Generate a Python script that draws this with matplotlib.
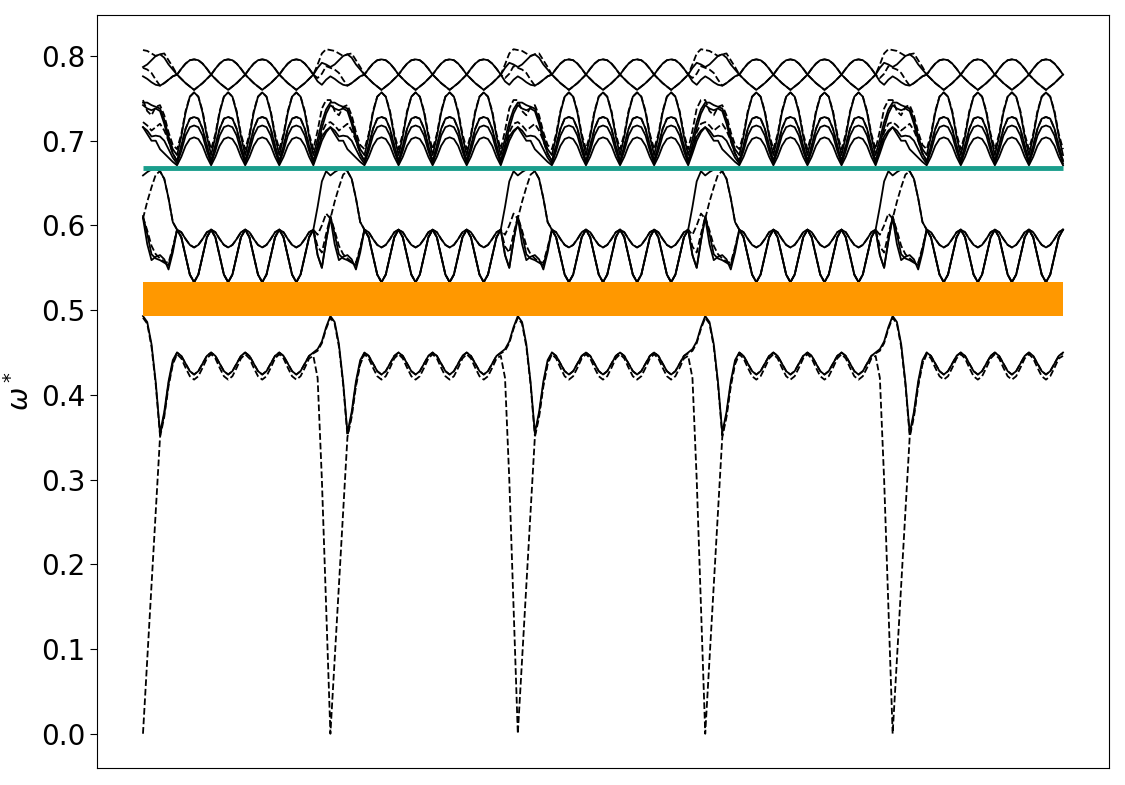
import numpy as np
import matplotlib
matplotlib.use('Agg')
import matplotlib.pyplot as plt

# one period = head (u 0..1.75) + 4 x cycle (u 2..9.75) + tail (u 10..10.75), step 0.25
n_periods = 5
n_pts = 217  # last period stops at u = 10

# lower band
s1_head = [0.493, 0.486, 0.460, 0.415, 0.355, 0.380, 0.416, 0.441]
s1_cycle = [0.450, 0.446, 0.437, 0.428, 0.424, 0.428, 0.437, 0.446]
s1_tail = [0.450, 0.454, 0.463, 0.480]
d1_head = [0.491, 0.484, 0.457, 0.412, 0.352, 0.377, 0.413, 0.438]
d1_tail = [0.449, 0.452, 0.461, 0.478]
d0_head = [0.0, 0.088, 0.175, 0.262, 0.350, 0.374, 0.410, 0.436]
d0_cycle = [0.448, 0.443, 0.432, 0.422, 0.418, 0.422, 0.432, 0.443]
d0_tail = [0.446, 0.420, 0.300, 0.150]

# middle band
a_head = [0.659, 0.663, 0.666, 0.667, 0.664, 0.655, 0.632, 0.604]
a_cycle = [0.595, 0.592, 0.584, 0.577, 0.574, 0.577, 0.584, 0.592]
a_tail = [0.595, 0.622, 0.652, 0.664]
b_head = [0.611, 0.590, 0.566, 0.561, 0.559, 0.556, 0.553, 0.572]
b_cycle = [0.595, 0.586, 0.564, 0.542, 0.533, 0.542, 0.564, 0.586]
b_tail = [0.595, 0.565, 0.550, 0.582]
c_head = [0.609, 0.578, 0.559, 0.563, 0.565, 0.560, 0.548, 0.568]
dm1_head = [0.608, 0.628, 0.645, 0.660, 0.664, 0.655, 0.632, 0.604]
dm1_tail = [0.595, 0.589, 0.600, 0.614]
dm2_head = [0.610, 0.594, 0.576, 0.566, 0.561, 0.557, 0.556, 0.574]
dm2_tail = [0.595, 0.575, 0.568, 0.590]

# upper band
t1_head = [0.787, 0.790, 0.795, 0.800, 0.802, 0.798, 0.790, 0.784]
t_cycle_up = [0.778, 0.785, 0.791, 0.795, 0.796, 0.795, 0.791, 0.785]
t1_tail = [0.778, 0.786, 0.792, 0.790]
t2_head = [0.776, 0.773, 0.769, 0.766, 0.765, 0.768, 0.772, 0.776]
t_cycle_dn = [0.778, 0.773, 0.768, 0.764, 0.760, 0.764, 0.768, 0.773]
t2_tail = [0.778, 0.770, 0.766, 0.772]
dt1_head = [0.807, 0.806, 0.803, 0.800, 0.802, 0.803, 0.795, 0.787]
dt1_tail = [0.778, 0.790, 0.803, 0.808]
dt2_head = [0.786, 0.784, 0.780, 0.772, 0.765, 0.768, 0.772, 0.776]
dt2_tail = [0.778, 0.774, 0.779, 0.788]

p_head = [0.745, 0.745, 0.742, 0.740, 0.738, 0.725, 0.705, 0.690]
p_cycle = [0.683, 0.705, 0.733, 0.752, 0.757, 0.752, 0.733, 0.705]
p_tail = [0.683, 0.702, 0.722, 0.737]
q_head = [0.742, 0.738, 0.736, 0.738, 0.735, 0.720, 0.700, 0.685]
q_cycle = [0.676, 0.694, 0.714, 0.726, 0.728, 0.726, 0.714, 0.694]
q_tail = [0.676, 0.695, 0.715, 0.732]
r_head = [0.716, 0.712, 0.705, 0.706, 0.705, 0.700, 0.690, 0.680]
r_cycle = [0.673, 0.688, 0.706, 0.716, 0.718, 0.716, 0.706, 0.688]
r_tail = [0.673, 0.690, 0.705, 0.712]
s_head = [0.716, 0.708, 0.700, 0.700, 0.690, 0.685, 0.680, 0.675]
s_cycle = [0.671, 0.681, 0.694, 0.702, 0.704, 0.702, 0.694, 0.681]
s_tail = [0.671, 0.685, 0.700, 0.710]
dp1_head = [0.748, 0.735, 0.730, 0.740, 0.742, 0.730, 0.710, 0.695]
dp1_cycle = [0.690, 0.708, 0.735, 0.752, 0.757, 0.752, 0.735, 0.708]
dp1_tail = [0.690, 0.712, 0.738, 0.748]
dp2_head = [0.722, 0.718, 0.712, 0.716, 0.720, 0.712, 0.700, 0.685]
dp2_tail = [0.676, 0.690, 0.710, 0.720]

gap1 = (0.4935, 0.533)
gap2 = 0.668


def band(head, cycle, tail):
    one = head + cycle * 4 + tail
    return np.array((one * n_periods)[:n_pts])


x = np.arange(n_pts) * 0.25

solid = [
    (s1_head, s1_cycle, s1_tail),
    (a_head, a_cycle, a_tail),
    (b_head, b_cycle, b_tail),
    (c_head, b_cycle, b_tail),
    (t1_head, t_cycle_up, t1_tail),
    (t2_head, t_cycle_dn, t2_tail),
    (p_head, p_cycle, p_tail),
    (q_head, q_cycle, q_tail),
    (r_head, r_cycle, r_tail),
    (s_head, s_cycle, s_tail),
]
dashed = [
    (d1_head, s1_cycle, d1_tail),
    (d0_head, d0_cycle, d0_tail),
    (dm1_head, a_cycle, dm1_tail),
    (dm2_head, b_cycle, dm2_tail),
    (dt1_head, t_cycle_up, dt1_tail),
    (dt2_head, t_cycle_dn, dt2_tail),
    (dp1_head, dp1_cycle, dp1_tail),
    (dp2_head, q_cycle, dp2_tail),
]

fig = plt.figure(figsize=(11.25, 7.85), dpi=100)
ax = fig.add_axes([0.0862, 0.0217, 0.8996, 0.9592])

for h, c, t in solid:
    ax.plot(x, band(h, c, t), color='black', lw=1.3)
for h, c, t in dashed:
    ax.plot(x, band(h, c, t), color='black', lw=1.3, ls='--')

ax.fill_between(x, gap1[0], gap1[1], color='#ff9800', lw=0, zorder=3)
ax.hlines(gap2, x[0], x[-1], color='#1a9e8c', lw=3.5, zorder=3)

ax.set_xticks([])
ax.set_yticks(np.arange(0, 0.81, 0.1))
ax.tick_params(axis='y', labelsize=20, length=5)
ax.set_ylabel('$\\omega^*$', fontsize=20, labelpad=4)

plt.savefig('out.png', dpi=100)
